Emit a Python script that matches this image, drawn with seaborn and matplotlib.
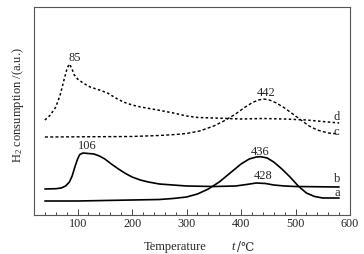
import numpy as np
import pandas as pd
import seaborn as sns
import matplotlib.pyplot as plt
from matplotlib.ticker import MultipleLocator

# curve values (arbitrary units)
a_x = [40, 100, 150, 200, 250, 275, 300, 320, 340, 360, 380, 400, 415, 428, 436, 448, 460, 475,
       490, 505, 520, 535, 550, 580]
a_y = [14, 14, 14.5, 15, 15.5, 16.5, 18, 21, 26, 33, 42, 51, 56, 58, 58.3, 57, 53, 46,
       38, 29, 22, 18.5, 17, 17]

b_x = [40, 60, 70, 78, 85, 90, 95, 100, 104, 110, 120, 130, 140, 150, 162, 175, 188, 200, 215,
       230, 250, 275, 300, 350, 390, 410, 428, 445, 460, 480, 500, 580]
b_y = [26, 26.3, 27, 29, 33, 39, 48, 56, 60.5, 62, 61.5, 61, 59, 56, 51, 46, 41.5, 38, 35,
       33, 31, 30, 29, 28.5, 29, 30.5, 32, 31.5, 30, 29, 28.5, 28]

c_x = [40, 200, 250, 280, 300, 324, 350, 372, 390, 405, 421, 432, 442, 452, 465, 480, 495,
       510, 525, 540, 560, 580]
c_y = [78, 78.5, 79.5, 80.5, 81.5, 84, 89, 95, 101, 107, 112.5, 115, 116, 115, 112, 107, 101,
       95, 89, 85, 82, 81]

d_x = [40, 50, 60, 68, 75, 81, 85, 89, 94, 100, 110, 123, 140, 155, 170, 184, 200, 216, 247,
       276, 300, 321, 350, 400, 440, 480, 520, 550, 580]
d_y = [95, 100, 108, 120, 135, 147, 151, 147, 140, 136, 132, 128, 125, 122, 117, 113, 110, 108, 105,
       102, 99, 97.5, 97, 96, 96.5, 96, 95, 93.5, 92]

peak_labels = ["85", "106", "442", "436", "428"]
peak_x = [94, 118, 446, 435, 441]
peak_y = [157, 69, 122, 63, 39]

curve_labels = ["d", "c", "b", "a"]
curve_lx = [576, 574, 577, 577]
curve_ly = [98, 83, 36, 22]

sns.set_style("ticks")
plt.rcParams["font.family"] = ["Liberation Serif", "DejaVu Serif"]
plt.rcParams["mathtext.fontset"] = "custom"
plt.rcParams["mathtext.rm"] = "Liberation Serif"
plt.rcParams["mathtext.it"] = "Liberation Serif:italic"

fig = plt.figure(figsize=(3.64, 2.54), dpi=100)
ax = fig.add_axes([34 / 364, 39 / 254, 316 / 364, 208 / 254])

sns.lineplot(x=a_x, y=a_y, ax=ax, color="black", lw=1.2)
sns.lineplot(x=b_x, y=b_y, ax=ax, color="black", lw=1.2)
sns.lineplot(x=c_x, y=c_y, ax=ax, color="black", lw=1.0, linestyle=(0, (2.2, 1.6)))
sns.lineplot(x=d_x, y=d_y, ax=ax, color="black", lw=1.1, linestyle=(0, (1.6, 1.6)))

for t, x, y in zip(peak_labels, peak_x, peak_y):
    ax.text(x, y, t, ha="center", va="center", fontsize=9)
for t, x, y in zip(curve_labels, curve_lx, curve_ly):
    ax.text(x, y, t, ha="center", va="center", fontsize=9)

ax.set_xlim(20, 600)
ax.set_ylim(0, 208)
ax.set_yticks([])
ax.xaxis.set_major_locator(MultipleLocator(100))
ax.xaxis.set_minor_locator(MultipleLocator(20))
ax.tick_params(axis="x", which="major", direction="in", length=4, width=0.7,
               labelsize=8.7, pad=2.5, color="#444444")
ax.tick_params(axis="x", which="minor", direction="in", length=2.5, width=0.7, color="#444444")
ax.set_xticks([100, 200, 300, 400, 500, 600])
for s in ax.spines.values():
    s.set_linewidth(0.8)
    s.set_color("#555555")

fig.text(175 / 364, 1 - 247 / 254, "Temperature", ha="center", va="center", fontsize=9)
fig.text(233 / 364, 1 - 247 / 254, "t", ha="center", va="center", fontsize=9, style="italic")
fig.text(237 / 364, 1 - 247 / 254, "/\u2103", ha="left", va="center", fontsize=8.5,
         family=["DejaVu Serif"])
fig.text(18 / 364, 1 - 105 / 254, "H$_2$ consumption /(a.u.)", rotation=90,
         ha="center", va="center", fontsize=9)

fig.savefig("out.png", dpi=100)
